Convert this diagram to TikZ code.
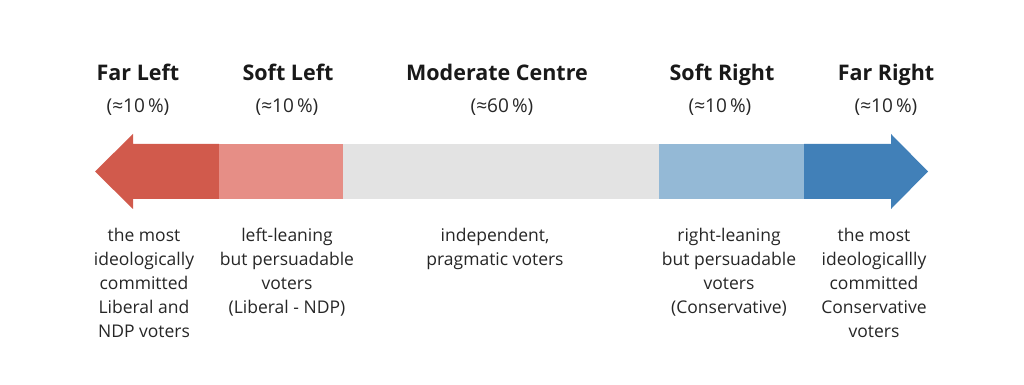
\documentclass[tikz,border=0pt]{standalone}
\usepackage{fontspec}
\setmainfont{Open Sans}
\usetikzlibrary{positioning}
\definecolor{farleft}{HTML}{D15A4C}
\definecolor{softleft}{HTML}{E68E86}
\definecolor{centre}{HTML}{E3E3E3}
\definecolor{softright}{HTML}{94B9D6}
\definecolor{farright}{HTML}{4180B8}
\begin{document}
\begin{tikzpicture}[
        x=1pt, y=1pt,
        title/.style={font=\fontsize{21.5}{26}\selectfont\bfseries, text=black!90, anchor=base},
        share/.style={font=\fontsize{19}{22}\selectfont, text=black!85, anchor=base},
        desc/.style={font=\fontsize{17.5}{24}\selectfont, align=center, anchor=north, text=black!85, inner sep=0pt},
    ]
    \useasboundingbox (0,0) rectangle (1024,385);
    % bar
    \fill[farleft] (95,213.5) -- (133,251) -- (133,241) -- (219,241) -- (219,186) -- (133,186) -- (133,176) -- cycle;
    \fill[softleft] (219,186) rectangle (343,241);
    \fill[centre] (343,186) rectangle (659,241);
    \fill[softright] (659,186) rectangle (804,241);
    \fill[farright] (928,213.5) -- (891,251) -- (891,241) -- (804,241) -- (804,186) -- (891,186) -- (891,176) -- cycle;
    % titles
    \node[title](fl) at (138,304){Far Left};
    \node[title](sl) at (288,304){Soft Left};
    \node[title](mc) at (497,304){Moderate Centre};
    \node[title](sr) at (722,304){Soft Right};
    \node[title](fr) at (886,304){Far Right};
    % shares
    \node[share](flp) at (138,272){(≈10\,\%)};
    \node[share](slp) at (287,272){(≈10\,\%)};
    \node[share](mcp) at (502,272){(≈60\,\%)};
    \node[share](srp) at (720,272){(≈10\,\%)};
    \node[share](frp) at (886,272){(≈10\,\%)};
    % descriptions
    \node[desc](fld) at (144,157){the most\\ideologically\\committed\\Liberal and\\NDP voters};
    \node[desc](sld) at (287,157){left-leaning\\but persuadable\\voters\\(Liberal - NDP)};
    \node[desc](mcd) at (495,157){independent,\\pragmatic voters};
    \node[desc](srd) at (729,157){right-leaning\\but persuadable\\voters\\(Conservative)};
    \node[desc](frd) at (874,157){the most\\ideologicallly\\committed\\Conservative\\voters};
\end{tikzpicture}
\end{document}
